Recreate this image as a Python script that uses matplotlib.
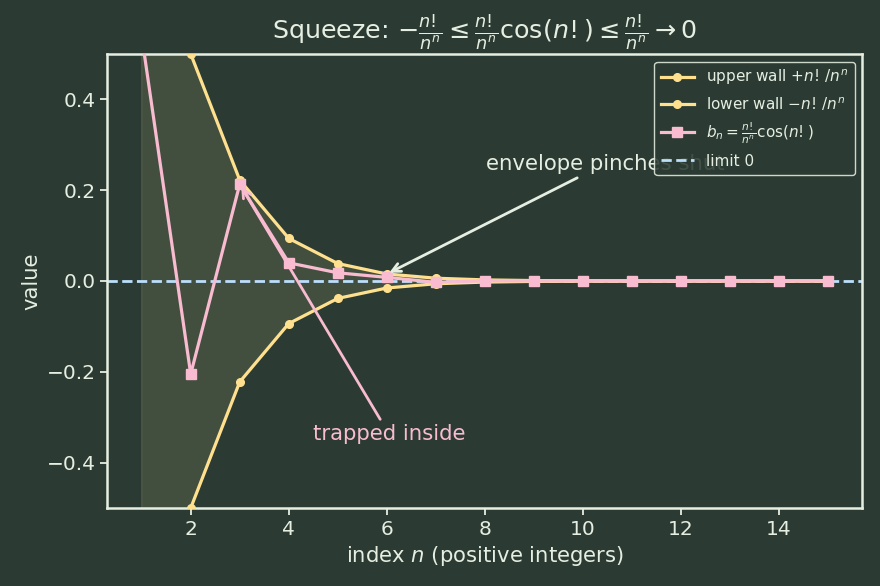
import matplotlib
matplotlib.use("Agg")
import matplotlib.pyplot as plt

n = list(range(1, 16))
upper = [1.0, 0.5, 0.2222, 0.09375, 0.0384, 0.01543, 0.00612, 0.0024, 0.000937,
         0.000363, 0.00014, 0.000054, 0.00002, 0.0000079, 0.000003]
lower = [-v for v in upper]
b_n = [0.54, -0.205, 0.213, 0.040, 0.018, 0.008, -0.003, 0.0005, 0.0002,
       0.0001, 0.0, 0.0, 0.0, 0.0, 0.0]

BG = "#2b3b33"
FG = "#e6eee2"
YEL = "#ffe08f"
PINK = "#f8bbd0"
BLUE = "#bbdefb"

plt.rcParams['font.family'] = ['DejaVu Sans']
fig, ax = plt.subplots(figsize=(8.8, 5.86), dpi=100)
fig.patch.set_facecolor(BG)
ax.set_facecolor(BG)

ax.fill_between(n, lower, upper, color="#b0aa7b", alpha=0.18, linewidth=1.0,
                edgecolor="#b0aa7b", zorder=1)
ax.plot(n, upper, color=YEL, lw=2.3, marker='o', ms=5.5, label=r"upper wall $+n!\,/n^n$", zorder=3)
ax.plot(n, lower, color=YEL, lw=2.3, marker='o', ms=5.5, label=r"lower wall $-n!\,/n^n$", zorder=3)
ax.plot(n, b_n, color=PINK, lw=2.3, marker='s', ms=7.5, label=r"$b_n=\frac{n!}{n^n}\cos(n!)$", zorder=4)
ax.axhline(0, color=BLUE, lw=2.0, ls='--', label="limit 0", zorder=2)

ax.set_ylim(-0.5, 0.5)
ax.set_yticks([-0.4, -0.2, 0.0, 0.2, 0.4])
ax.set_xticks([2, 4, 6, 8, 10, 12, 14])

ax.annotate("envelope pinches shut", xy=(6, upper[5]), xytext=(10.45, 0.258),
            color=FG, fontsize=15.3, ha='center', va='center',
            arrowprops=dict(arrowstyle='->', color=FG, lw=2.0), zorder=5)
ax.annotate("trapped inside", xy=(3, b_n[2]), xytext=(6.05, -0.338),
            color=PINK, fontsize=15.3, ha='center', va='center',
            arrowprops=dict(arrowstyle='->', color=PINK, lw=2.0), zorder=5)

ax.set_title(r"Squeeze: $-\frac{n!}{n^n}\leq\frac{n!}{n^n}\cos(n!)\leq\frac{n!}{n^n}\to 0$",
             color=FG, fontsize=18.3, pad=10)
ax.set_xlabel(r"index $n$ (positive integers)", color=FG, fontsize=15.2)
ax.set_ylabel("value", color=FG, fontsize=15.2)
ax.tick_params(colors=FG, labelsize=14.5, width=1.3, length=5)
for s in ax.spines.values():
    s.set_color(FG)
    s.set_linewidth(1.8)

leg = ax.legend(loc='upper right', fontsize=11, facecolor=BG, edgecolor=FG,
                framealpha=0.88, handlelength=2.2, borderaxespad=0.5)
for t in leg.get_texts():
    t.set_color(FG)
leg.set_zorder(10)

fig.subplots_adjust(left=0.122, right=0.98, top=0.908, bottom=0.133)
fig.savefig("out.png", dpi=100, facecolor=BG)
